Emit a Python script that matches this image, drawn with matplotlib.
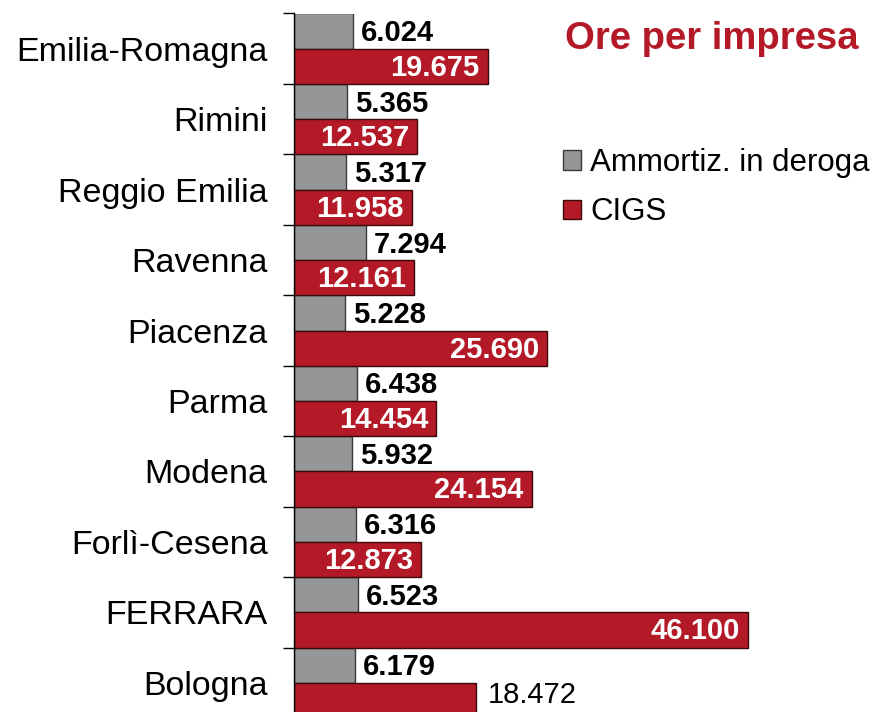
import matplotlib
matplotlib.use("Agg")
import matplotlib.pyplot as plt
from matplotlib.patches import Patch

plt.rcParams['font.family'] = ['Liberation Sans', 'DejaVu Sans']

categories = ["Emilia-Romagna", "Rimini", "Reggio Emilia", "Ravenna", "Piacenza",
              "Parma", "Modena", "Forlì-Cesena", "FERRARA", "Bologna"]
ammortiz = [6.024, 5.365, 5.317, 7.294, 5.228, 6.438, 5.932, 6.316, 6.523, 6.179]
cigs = [19.675, 12.537, 11.958, 12.161, 25.690, 14.454, 24.154, 12.873, 46.100, 18.472]
series_names = ["Ammortiz. in deroga", "CIGS"]
title = "Ore per impresa"

GREY = "#969696"
RED = "#B41928"

W, H = 876, 712
fig = plt.figure(figsize=(W / 100, H / 100), dpi=100)
ax_left, ax_top, ax_bottom = 294, 13.5, 718
ax = fig.add_axes([ax_left / W, (H - ax_bottom) / H, (W - ax_left) / W, (ax_bottom - ax_top) / H])

n = len(categories)
ypos = list(range(n))
ax.barh([y - 0.25 for y in ypos], ammortiz, height=0.5, color=GREY, edgecolor="#3a3a3a", linewidth=1)
ax.barh([y + 0.25 for y in ypos], cigs, height=0.5, color=RED, edgecolor="#3a0a0a", linewidth=1)

px_per_unit = 9.84
ax.set_xlim(0, (W - ax_left) / px_per_unit)
ax.set_ylim(n - 0.5, -0.5)

off = 8 / px_per_unit
for y, v in zip(ypos, ammortiz):
    ax.text(v + off, y - 0.22, f"{v:.3f}", ha="left", va="center", fontsize=21,
            fontweight="bold", color="black")
for i, (y, v) in enumerate(zip(ypos, cigs)):
    if categories[i] == "Bologna":
        ax.text(v + 12 / px_per_unit, y + 0.17, f"{v:.3f}", ha="left", va="center",
                fontsize=21, color="black")
    else:
        ax.text(v - off, y + 0.27, f"{v:.3f}", ha="right", va="center", fontsize=21,
                fontweight="bold", color="white")

for s in ["top", "right", "bottom"]:
    ax.spines[s].set_visible(False)
ax.spines["left"].set_color("black")
ax.spines["left"].set_linewidth(1)
ax.set_xticks([])
ax.set_yticks(ypos)
ax.set_yticklabels(categories, fontsize=24.5)
ax.tick_params(axis="y", which="major", length=0, pad=19)
ax.set_yticks([y - 0.5 for y in range(n + 1)], minor=True)
ax.tick_params(axis="y", which="minor", length=8, width=1, color="black", direction="out")

fig.text(565 / W, 1 - 39 / H, title, ha="left", va="center", fontsize=27.5,
         fontweight="bold", color=RED)

handles = [Patch(facecolor=GREY, edgecolor="#3a3a3a", linewidth=1),
           Patch(facecolor=RED, edgecolor="#3a0a0a", linewidth=1)]
fig.legend(handles, series_names, loc="upper left", bbox_to_anchor=(563 / W, 1 - 148 / H),
           frameon=False, fontsize=22.5, handlelength=0.58, handleheight=0.58,
           handletextpad=0.3, labelspacing=0.62, borderaxespad=0, borderpad=0)

fig.savefig("out.png", dpi=100)
